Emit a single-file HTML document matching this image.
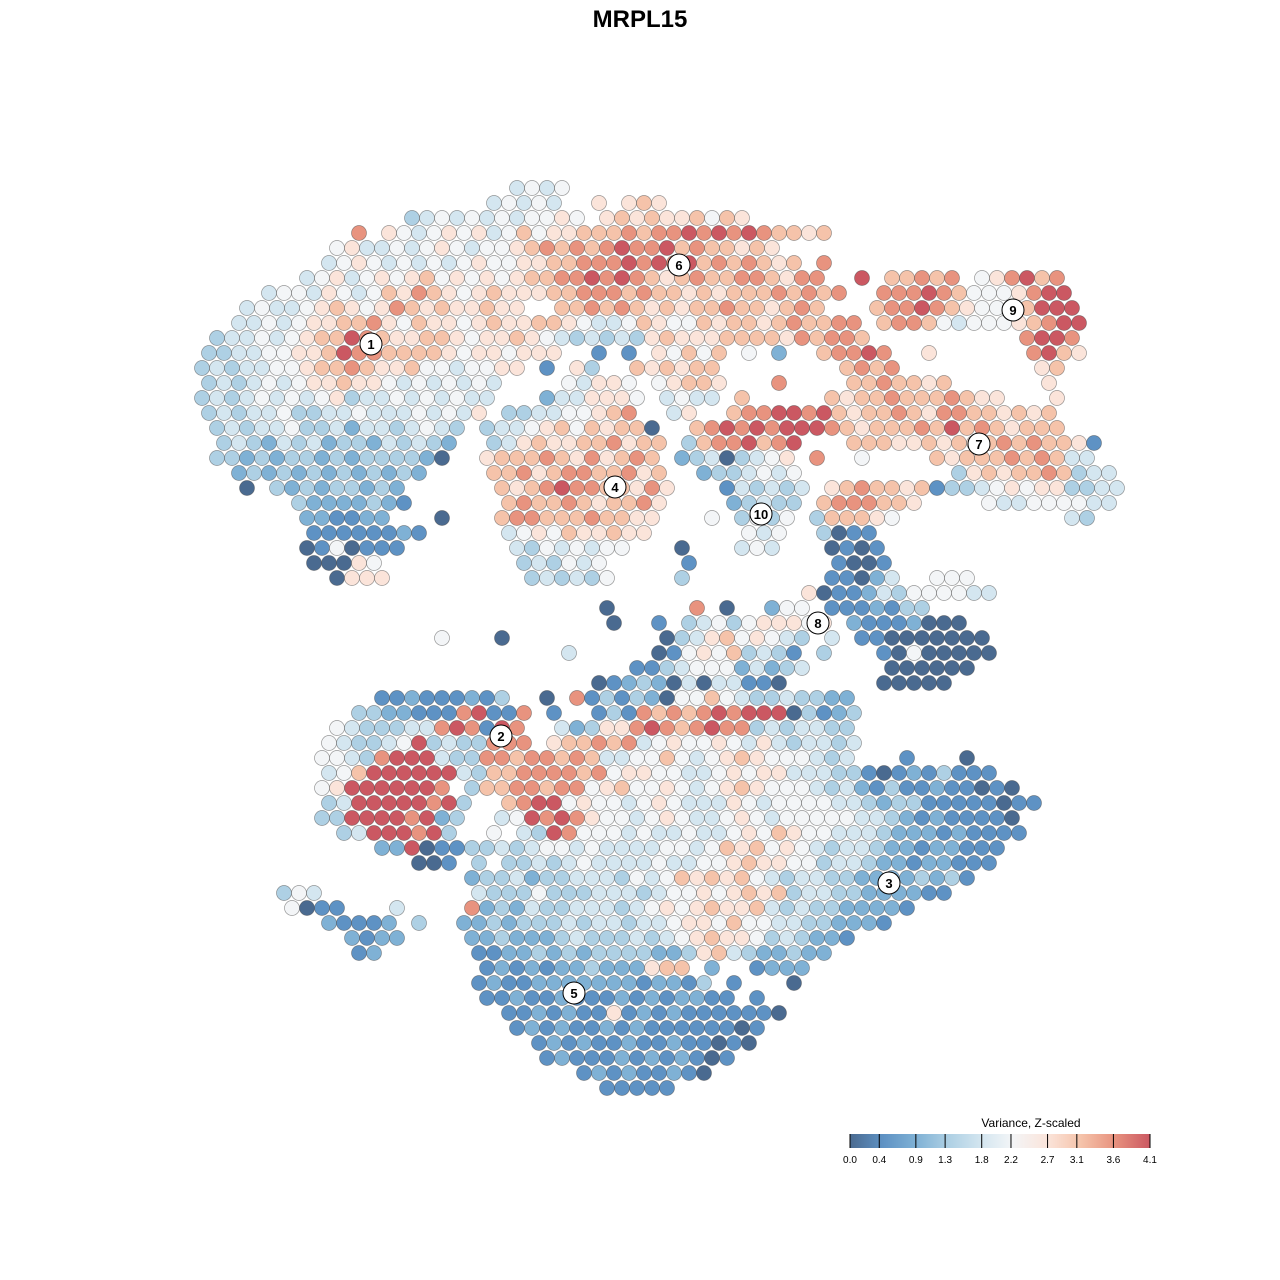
<!DOCTYPE html>
<html><head><meta charset="utf-8"><style>
html,body{margin:0;padding:0;background:#fff;}
svg{display:block;font-family:"Liberation Sans",sans-serif;}
</style></head><body>
<svg id="chart" width="1280" height="1280" viewBox="0 0 1280 1280" xmlns="http://www.w3.org/2000/svg">
<text x="640" y="27" text-anchor="middle" font-size="24" font-weight="bold">MRPL15</text>
<g id="points"></g>
<g id="labels"></g>
<g id="legend">
<defs><linearGradient id="grad" x1="0" x2="1" y1="0" y2="0">
<stop offset="0" stop-color="#4a6a90"/><stop offset="0.11" stop-color="#5e92c4"/><stop offset="0.22" stop-color="#7fb1d5"/><stop offset="0.33" stop-color="#aed0e4"/><stop offset="0.44" stop-color="#d4e6f0"/><stop offset="0.54" stop-color="#f3f5f7"/><stop offset="0.66" stop-color="#fbe4da"/><stop offset="0.77" stop-color="#f5c3aa"/><stop offset="0.88" stop-color="#e8937f"/><stop offset="1" stop-color="#cb5862"/></linearGradient></defs>
<text x="1031" y="1127" text-anchor="middle" font-size="12">Variance, Z-scaled</text>
<rect x="850" y="1134" width="300" height="14" fill="url(#grad)"/>
</g>
</svg>
<script>
// grid-encoded cell layout: row -> "startCol:levels" segments
const rows = [
"21:4545",
"19:45454 26:6.676",
"14:345454545565 27:6767667576",
"10:8 12:654565645756677787889898987767",
"9:5644545654556 22:78787898897877676",
"8:45654545456556 22:677888989897878767 41:8",
"7:456456567565656 22:7788989876787788768 41:8 44:9 46:77878 52:568978",
"4:455465457687656766 22:677888787767677787878 45:8889875556899",
"3:4544567656876766766 24:778787676778776787 45:78898765567999",
"2:4454566778657665676677 24:65445765576776787788 45:78875455567899",
"1:34454567798766776566765 24:434343676667777687887 55:8998",
"0:334455667988777765665666 26:1 28:1 30:65757 36:5 38:2 41:78898 48:6 55:8976",
"0:3434455677876675545566 23:1 25:63 29:767677 43:7878 56:67",
"0:34345456676654545454 24:54665 30:56776 38:8 43:7787767 56:6",
"0:34345454563445454544 23:2446665 31:4544 36:7 42:767787778766 57:6",
"0:3434453344544454546 20:334455678 31:46 35:7889989 42:767787688776767",
"1:34344533424434543 19:344567576770 33:789898999 42:8767778797876777",
"1:3432434233243432 19:346766778677 32:37889789 43:7776676767878776 59:1",
"1:3323233232333320 19:677787686787 32:23403456 41:8 44:5 49:76777878744",
"2:2323232323232 19:778678877867 33:2334545 50:36767787344",
"3:0 5:323233232 20:767898877686 35:143434 42:6787767 49:1334565663344",
"6:32222321 20:78778767786 35:23433 41:7888776 52:544555544",
"7:221122 16:0 20:78877787766 34:5 36:3535 41:377765 58:43",
"7:11111121 20:4565766766 36:545 41:3011",
"7:0150111 21:43545455 32:0 36:454 42:0101",
"7:00065 21:343545 32:1 42:1001",
"9:0666 22:343435 32:3 42:11024 49:555",
"40:6011243555544",
"27:0 33:8 35:0 38:255 42:1112133",
"27:0 30:1 32:345356665 41:6 43:21112000",
"16:5 20:0 31:0 32:346756543 42:4 44:110000000",
"24:4 30:0 31:156573431 41:3 45:10500000",
"29:113455524234 46:000000",
"26:012320404411 38:0 45:00000",
"12:112111213 23:0 25:8 26:131320557543343322",
"10:332211189118 23:1 26:131878789899903123",
"9:5433344898198 24:42366898789883434433",
"8:54334593433888 23:677878456556546434434",
"8:55438999433887 22:8 23:878744557545676555434 47:1 51:0",
"8:457999999 17:43 19:7788 23:887856655445656644433 44:101213111",
"8:569999998 18:3 19:778 22:8788567556545676555434 44:21311211010",
"8:349999989 17:3 20:789956554565444654555544323311111011",
"8:33999989 16:2 17:3 20:45989865545654456545555544321211110",
"9:34999893 19:5 21:4398555454454456576554443222121111",
"12:2290113 19:34345545444455457675654344322122111",
"14:001 18:3 20:334345444454455676655344322122111",
"18:2334233444354576767543443322223231",
"5:354 18:43335333444345565676734433222211",
"6:5011 13:4 18:823243344434565676674343322221",
"8:21112 14:3 17:22323334344344566575544332221",
"10:2122 18:22322234333434567665343221",
"10:12 18:112232323333223674322322",
"19:12121223222677 34:2 37:1222",
"18:1211222222212213 35:1 39:0",
"19:11211211121212211 37:1",
"20:112121161212111111 38:0",
"21:12121121211111101",
"22:121211211211010",
"23:1211121212101",
"25:121211210",
"27:11111"
];
const palette = ["#4a6a90","#5e92c4","#7fb1d5","#aed0e4","#d4e6f0","#f3f5f7","#fbe4da","#f5c3aa","#e8937f","#cb5862"];
const clusterIds = ["1","2","3","4","5","6","7","8","9","10"];
const clusterX = [371,501,889,615,574,679,979,818,1013,761];
const clusterY = [344,736,883,487,993,265,444,623,310,514];
const legendTicks = [0.0,0.4,0.9,1.3,1.8,2.2,2.7,3.1,3.6,4.1];
const legendLabels = ["0.0","0.4","0.9","1.3","1.8","2.2","2.7","3.1","3.6","4.1"];

const NS = "http://www.w3.org/2000/svg";
const gx = c => 202 + 15 * c;
const gy = r => 188 + 15 * r;
const lx = v => 850 + v / 4.1 * 300;

const pg = document.getElementById("points");
rows.forEach((row, r) => {
  const off = (r % 2) ? 7 : 0;
  row.split(" ").filter(s => s.indexOf(":") > 0).forEach(seg => {
    const parts = seg.split(":");
    const c0 = parseInt(parts[0], 10);
    const lv = parts[1] || "";
    for (let i = 0; i < lv.length; i++) {
      const ch = lv[i];
      if (ch === ".") continue;
      const el = document.createElementNS(NS, "circle");
      el.setAttribute("cx", gx(c0 + i) + off);
      el.setAttribute("cy", gy(r));
      el.setAttribute("r", 7.5);
      el.setAttribute("fill", palette[+ch]);
      el.setAttribute("stroke", "rgba(70,70,70,0.55)");
      el.setAttribute("stroke-width", "0.7");
      
      
      pg.appendChild(el);
    }
  });
});

const lg = document.getElementById("labels");
clusterIds.forEach((id, i) => {
  const g = document.createElementNS(NS, "g");
  
  
  const c = document.createElementNS(NS, "circle");
  c.setAttribute("cx", clusterX[i]); c.setAttribute("cy", clusterY[i]); c.setAttribute("r", 11);
  c.setAttribute("fill", "#fff"); c.setAttribute("stroke", "#000"); c.setAttribute("stroke-width", "1");
  g.appendChild(c);
  const t = document.createElementNS(NS, "text");
  t.setAttribute("x", clusterX[i]); t.setAttribute("y", clusterY[i] + 5);
  t.setAttribute("text-anchor", "middle"); t.setAttribute("font-size", "13"); t.setAttribute("font-weight", "bold");
  t.textContent = id;
  g.appendChild(t);
  lg.appendChild(g);
});

const leg = document.getElementById("legend");
legendTicks.forEach((v, i) => {
  const ln = document.createElementNS(NS, "line");
  ln.setAttribute("x1", lx(v)); ln.setAttribute("x2", lx(v));
  ln.setAttribute("y1", 1134); ln.setAttribute("y2", 1148);
  ln.setAttribute("stroke", "#000"); ln.setAttribute("stroke-width", "1");
  
  
  leg.appendChild(ln);
  const t = document.createElementNS(NS, "text");
  t.setAttribute("x", lx(v)); t.setAttribute("y", 1163);
  t.setAttribute("text-anchor", "middle"); t.setAttribute("font-size", "10");
  t.textContent = legendLabels[i];
  
  
  leg.appendChild(t);
});
</script>
</body></html>
